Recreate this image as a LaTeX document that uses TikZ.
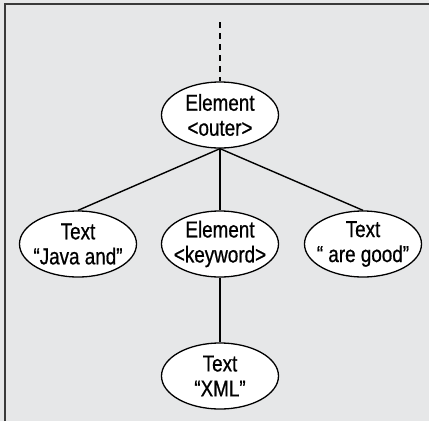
\documentclass[tikz,border=0pt]{standalone}
\usepackage{fontspec}
\setmainfont{Liberation Sans}[FakeStretch=0.82, FakeBold=0.7]
\usetikzlibrary{shapes.geometric}
\definecolor{panel-bg}{HTML}{E6E7E8}
\definecolor{frame-dark}{HTML}{3A3A3A}
\tikzset{
  treenode/.style={draw, ellipse, fill=white, line width=1.3pt,
    minimum width=117pt, minimum height=66pt,
    inner xsep=-12pt, inner ysep=-5pt,
    align=center, font=\fontsize{23}{25}\selectfont},
  treeedge/.style={line width=1.4pt}
}
\begin{document}
\begin{tikzpicture}[x=1pt, y=1pt]
    % Panel: 429 x 421, grey fill, frame only on top and left
    \useasboundingbox (0,0) rectangle (429,-421);
    \fill[panel-bg] (0,0) rectangle (429,-421);
    \draw[frame-dark, line width=2.5pt] (5,-421) -- (5,-4) -- (429,-4);
    % Nodes
    \coordinate (parent) at (220,-22);
    \node[treenode] (outer) at (220,-115) {Element\\<outer>};
    \node[treenode] (javaand) at (78,-244) {Text\\“Java and”};
    \node[treenode] (keyword) at (220,-244) {Element\\<keyword>};
    \node[treenode] (aregood) at (363,-244) {Text\\“ are good”};
    \node[treenode] (xml) at (220,-376) {Text\\“XML”};
    % Edges
    \draw[treeedge, dash pattern=on 6pt off 5pt] (parent) -- (outer.north);
    \draw[treeedge] (outer.south) -- (javaand.north);
    \draw[treeedge] (outer.south) -- (keyword.north);
    \draw[treeedge] (outer.south) -- (aregood.north);
    \draw[treeedge] (keyword.south) -- (xml.north);
\end{tikzpicture}
\end{document}
